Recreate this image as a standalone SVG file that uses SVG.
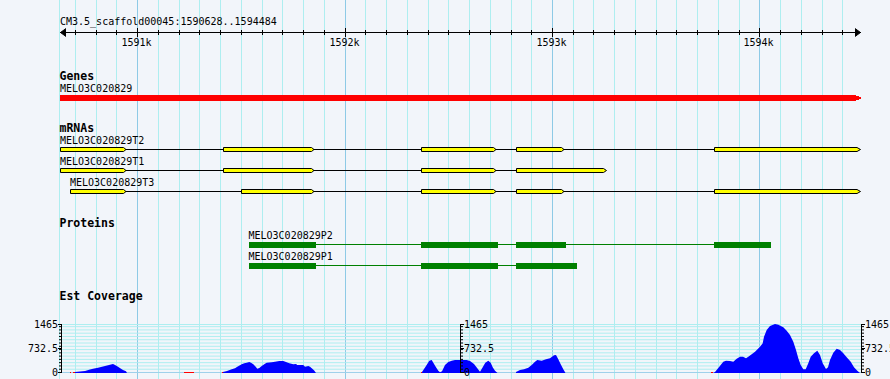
<svg xmlns="http://www.w3.org/2000/svg" width="890" height="379" viewBox="0 0 890 379">
<style>
.t{font-family:"DejaVu Sans Mono","Liberation Mono",monospace;font-size:10px;fill:#000}
.h{font-family:"DejaVu Sans Mono","Liberation Mono",monospace;font-size:11.5px;font-weight:bold;fill:#000}
.gmin{stroke:#aeeef0;stroke-width:1}
.gmaj{stroke:#8ecae6;stroke-width:1}
.hg{stroke:#aeeef0;stroke-width:1}
.tk{stroke:#000;stroke-width:1}
.ex{fill:#ffff00;stroke:#000;stroke-width:1}
.in{stroke:#000;stroke-width:1}
.pb{fill:#008000}
.pl{stroke:#008000;stroke-width:1}
.cov{fill:#0000ff}
.red{fill:#ff0000}
</style>
<rect x="0" y="0" width="890" height="379" fill="#f2f5fa"/>
<g id="grid">
<path class="gmin" d="M59.5 0V379M75.5 0V379M96.5 0V379M116.5 0V379M158.5 0V379M179.5 0V379M199.5 0V379M220.5 0V379M241.5 0V379M262.5 0V379M282.5 0V379M303.5 0V379M324.5 0V379M365.5 0V379M386.5 0V379M407.5 0V379M428.5 0V379M448.5 0V379M469.5 0V379M490.5 0V379M511.5 0V379M531.5 0V379M573.5 0V379M593.5 0V379M614.5 0V379M635.5 0V379M656.5 0V379M676.5 0V379M697.5 0V379M718.5 0V379M739.5 0V379M780.5 0V379M801.5 0V379M822.5 0V379M842.5 0V379"/>
<path class="gmaj" d="M137.5 0V379M345.5 0V379M552.5 0V379M759.5 0V379"/>
</g>
<g id="ruler">
<path class="tk" d="M60 32.5H861M66 28.5L60.5 32.5L66 36.5M855 28.5L860.5 32.5L855 36.5"/>
<path class="tk" d="M75.5 30V35M96.5 30V35M116.5 30V35M158.5 30V35M179.5 30V35M199.5 30V35M220.5 30V35M241.5 30V35M262.5 30V35M282.5 30V35M303.5 30V35M324.5 30V35M365.5 30V35M386.5 30V35M407.5 30V35M428.5 30V35M448.5 30V35M469.5 30V35M490.5 30V35M511.5 30V35M531.5 30V35M573.5 30V35M593.5 30V35M614.5 30V35M635.5 30V35M656.5 30V35M676.5 30V35M697.5 30V35M718.5 30V35M739.5 30V35M780.5 30V35M801.5 30V35M822.5 30V35M842.5 30V35"/>
<path class="tk" d="M137.5 28V37M345.5 28V37M552.5 28V37M759.5 28V37"/>
<text class="t" x="60" y="25">CM3.5_scaffold00045:1590628..1594484</text>
<text class="t" x="136.5" y="45.5" text-anchor="middle">1591k</text>
<text class="t" x="344.5" y="45.5" text-anchor="middle">1592k</text>
<text class="t" x="551.5" y="45.5" text-anchor="middle">1593k</text>
<text class="t" x="758.5" y="45.5" text-anchor="middle">1594k</text>
</g>
<g id="genes">
<text class="h" x="59.5" y="80">Genes</text>
<text class="t" x="60" y="92">MELO3C020829</text>
<polygon fill="#ff0000" points="60,95 856,95 856,96 859,96 859,97 861,97 861,99 859,99 859,100 856,100 856,101 60,101"/>
</g>
<g id="mrna-header"><text class="h" x="59.5" y="132">mRNAs</text></g>
<g id="T2">
<text class="t" x="60" y="144">MELO3C020829T2</text>
<path class="in" d="M60 149.5H860"/>
<polygon class="ex" points="60.5,147.5 123.5,147.5 126,149.5 123.5,151.5 60.5,151.5"/>
<polygon class="ex" points="223.5,147.5 311.5,147.5 314,149.5 311.5,151.5 223.5,151.5"/>
<polygon class="ex" points="421.5,147.5 493.5,147.5 496,149.5 493.5,151.5 421.5,151.5"/>
<polygon class="ex" points="516.5,147.5 561.5,147.5 564,149.5 561.5,151.5 516.5,151.5"/>
<polygon class="ex" points="714.5,147.5 857,147.5 860.5,149.5 857,151.5 714.5,151.5"/>
</g>
<g id="T1">
<text class="t" x="60" y="165">MELO3C020829T1</text>
<path class="in" d="M60 170.5H606"/>
<polygon class="ex" points="60.5,168.5 123.5,168.5 126,170.5 123.5,172.5 60.5,172.5"/>
<polygon class="ex" points="223.5,168.5 311.5,168.5 314,170.5 311.5,172.5 223.5,172.5"/>
<polygon class="ex" points="421.5,168.5 493.5,168.5 496,170.5 493.5,172.5 421.5,172.5"/>
<polygon class="ex" points="516.5,168.5 603.5,168.5 606.5,170.5 603.5,172.5 516.5,172.5"/>
</g>
<g id="T3">
<text class="t" x="70" y="185.5">MELO3C020829T3</text>
<path class="in" d="M70 191.5H860"/>
<polygon class="ex" points="70.5,189.5 123.5,189.5 126,191.5 123.5,193.5 70.5,193.5"/>
<polygon class="ex" points="241.5,189.5 311.5,189.5 314,191.5 311.5,193.5 241.5,193.5"/>
<polygon class="ex" points="421.5,189.5 493.5,189.5 496,191.5 493.5,193.5 421.5,193.5"/>
<polygon class="ex" points="516.5,189.5 561.5,189.5 564,191.5 561.5,193.5 516.5,193.5"/>
<polygon class="ex" points="714.5,189.5 857,189.5 860.5,191.5 857,193.5 714.5,193.5"/>
</g>
<g id="protein-header"><text class="h" x="59.5" y="227">Proteins</text></g>
<g id="P2">
<text class="t" x="248.5" y="239">MELO3C020829P2</text>
<path class="pl" d="M316 244.5H714"/>
<rect class="pb" x="249" y="242" width="67" height="6"/>
<rect class="pb" x="421" y="242" width="77" height="6"/>
<rect class="pb" x="516" y="242" width="50" height="6"/>
<rect class="pb" x="714" y="242" width="57" height="6"/>
</g>
<g id="P1">
<text class="t" x="248.5" y="260">MELO3C020829P1</text>
<path class="pl" d="M316 265.5H516"/>
<rect class="pb" x="249" y="263" width="67" height="6"/>
<rect class="pb" x="421" y="263" width="77" height="6"/>
<rect class="pb" x="516" y="263" width="61" height="6"/>
</g>
<g id="coverage">
<text class="h" x="59.5" y="300">Est Coverage</text>
<path class="hg" d="M61 324.5H861M61 326.63H861M61 329.91H861M61 333.18H861M61 336.46H861M61 339.74H861M61 343.01H861M61 346.29H861M61 349.57H861M61 352.84H861M61 356.12H861M61 359.39H861M61 362.67H861M61 365.95H861M61 369.22H861"/>
<path stroke="#9fd0ea" stroke-width="1" d="M61 372.5H861"/>
<polygon class="cov" points="75,373 75,372 85,371 90,369.5 93,368.7 98,367.7 102,366.7 106,365.7 110,364.7 113,364 115,365 118,366.7 121,368.7 123,370 126,371.3 127,373"/>
<polygon class="cov" points="223,373 223,372 227,371 231.7,369.3 235,368.3 237.3,366.7 241.7,364.3 244.3,363.3 246.7,362.7 249.3,362 251,362.7 253.3,364.3 255.7,366.7 257.3,368.7 259.3,368 261.7,366 265,363.7 266.7,362.7 271.7,362.3 275,361.7 279.3,361 283.3,361 286,362 289.3,363.3 293.3,364.3 296,364 297.3,365 303.3,365 305,366.7 308.3,366 310,366.7 312.3,368.7 314,370.3 316,373"/>
<polygon class="cov" points="422,373 422,372 426,366 429.3,360.7 431.7,360 433.3,362.7 436,367.3 438.3,370.7 440,372.3 442,371.3 445,365 448.3,362 451.7,360.7 455,360 466.7,360 470,361 474,364 477.3,368.3 480,371.7 482.7,367.3 485.3,362.7 488.3,360.7 490.7,362.7 492.7,367.3 495,370.7 497.5,373"/>
<polygon class="cov" points="516,373 516,372 520,370 524,369.3 528.3,367.7 531.7,365 535,361.7 537.3,360 541.7,360.7 546,359.3 550,358.3 554,355.3 556,355 558.3,359.3 560.7,364.3 563.3,369.3 565.5,373"/>
<polygon class="cov" points="713,373 715,372 719.3,366.7 723.3,361.7 726,360.7 730,361 733.3,361.7 736.7,358.7 740,356.7 743,356.7 746,358.3 748.3,356.7 751.7,354.3 755,351.7 760,346.7 762.7,343.3 764,336.7 766.7,330 770,326 775,324 778.3,324.7 783.3,327.3 786.7,330.7 790,335 793.3,341.7 796,350 798.3,358.3 800.7,365 803.3,369.3 805.7,369.3 808.3,363.3 810.7,356.7 814,353.3 817.3,350.7 820,355 822.7,363.3 826,369 828,367.3 830,360 833.3,352.7 836.7,348.7 840,350 843.3,353.3 846.7,357.3 850.7,361.7 854,367.3 857.3,370.7 860,373"/>
<rect class="red" x="70" y="372" width="1" height="1"/>
<rect class="red" x="73" y="372" width="2" height="1"/>
<rect class="red" x="184" y="372" width="10" height="1"/>
<rect class="red" x="222" y="372" width="1" height="1"/>
<rect class="red" x="421" y="372" width="1" height="1"/>
<rect class="red" x="711" y="372" width="2" height="1"/>
<path class="tk" d="M61.5 324V373M58 324.5H61.5M59 326.63H61.5M59 329.91H61.5M59 333.18H61.5M59 336.46H61.5M59 339.74H61.5M59 343.01H61.5M59 346.29H61.5M58 348.5H61.5M59 349.57H61.5M59 352.84H61.5M59 356.12H61.5M59 359.39H61.5M59 362.67H61.5M59 365.95H61.5M59 369.22H61.5M58 372.5H61.5"/>
<path class="tk" d="M460.5 324V373M460.5 324.5H464M460.5 326.63H463M460.5 329.91H463M460.5 333.18H463M460.5 336.46H463M460.5 339.74H463M460.5 343.01H463M460.5 346.29H463M460.5 348.5H464M460.5 349.57H463M460.5 352.84H463M460.5 356.12H463M460.5 359.39H463M460.5 362.67H463M460.5 365.95H463M460.5 369.22H463M460.5 372.5H464"/>
<path class="tk" d="M861.5 324V373M861.5 324.5H865M861.5 326.63H864M861.5 329.91H864M861.5 333.18H864M861.5 336.46H864M861.5 339.74H864M861.5 343.01H864M861.5 346.29H864M861.5 348.5H865M861.5 349.57H864M861.5 352.84H864M861.5 356.12H864M861.5 359.39H864M861.5 362.67H864M861.5 365.95H864M861.5 369.22H864M861.5 372.5H865"/>
<text class="t" x="58" y="328" text-anchor="end">1465</text>
<text class="t" x="58" y="352" text-anchor="end">732.5</text>
<text class="t" x="58" y="376" text-anchor="end">0</text>
<text class="t" x="464" y="328">1465</text>
<text class="t" x="464" y="352">732.5</text>
<text class="t" x="464" y="376">0</text>
<text class="t" x="865" y="328">1465</text>
<text class="t" x="865" y="352">732.5</text>
<text class="t" x="865" y="376">0</text>
</g>
</svg>
